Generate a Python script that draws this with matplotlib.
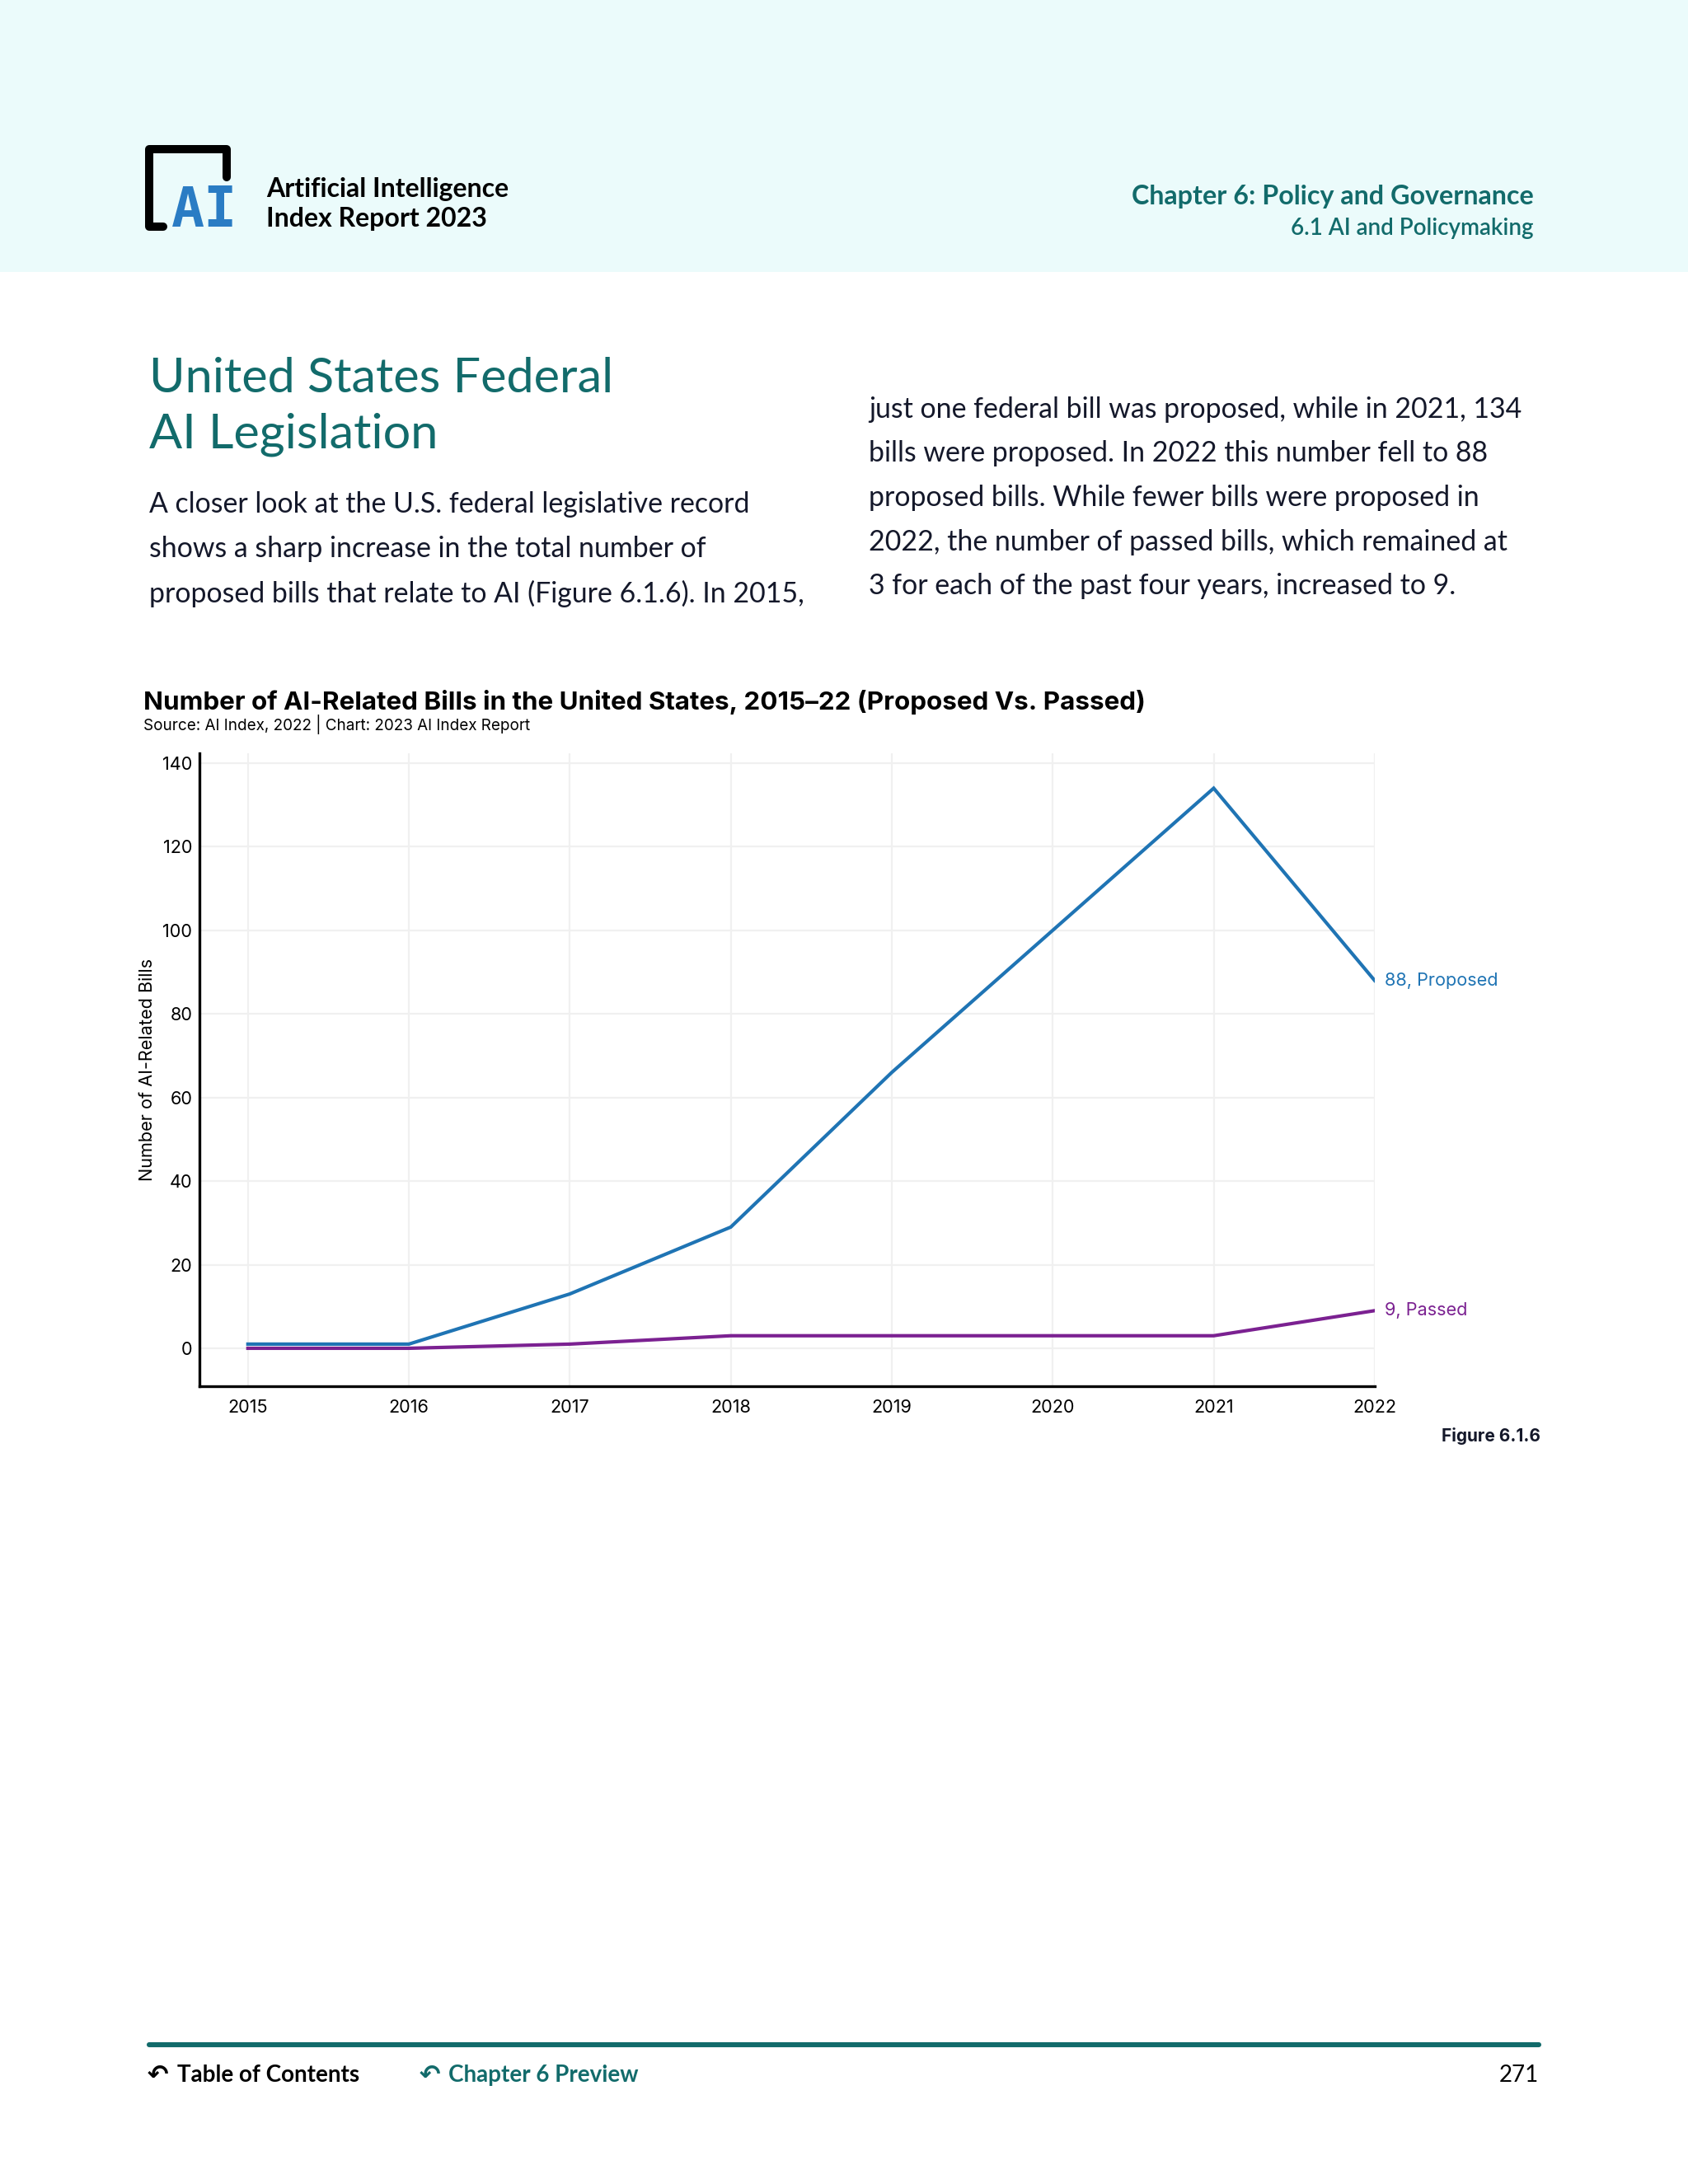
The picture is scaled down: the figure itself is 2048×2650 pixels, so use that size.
import matplotlib
matplotlib.use('Agg')
import matplotlib.pyplot as plt
from matplotlib.lines import Line2D
from matplotlib.patches import Rectangle

# Data
years = [2015, 2016, 2017, 2018, 2019, 2020, 2021, 2022]
proposed = [1, 1, 13, 29, 66, 100, 134, 88]
passed = [0, 0, 1, 3, 3, 3, 3, 9]
y_ticks = [0, 20, 40, 60, 80, 100, 120, 140]

BLUE = '#1f74b4'
PURPLE = '#7b2191'
TEAL = '#126b6b'
DARK = '#14182a'
BODY_FONT = ['Lato', 'DejaVu Sans']
CHART_FONT = ['Inter', 'DejaVu Sans']

# page layout is measured on a 1212 x 1568 grid
W, H = 1212.0, 1568.0


def P(x, y):
    return x / W, 1 - y / H


fig = plt.figure(figsize=(10.24, 13.25), dpi=200)
fig.patch.set_facecolor('white')

# header band
fig.add_artist(Rectangle((0, 1 - 195 / H), 1, 195 / H, transform=fig.transFigure,
                         facecolor='#ebfbfb', edgecolor='none', zorder=0))

# logo: black bracket + blue AI
bx = [117 / W, 107 / W, 107 / W, 163 / W, 163 / W]
by = [1 - 163 / H, 1 - 163 / H, 1 - 107 / H, 1 - 107 / H, 1 - 127 / H]
fig.add_artist(Line2D(bx, by, transform=fig.transFigure, color='black', lw=3.6,
                      solid_capstyle='round', solid_joinstyle='round'))
fig.text(*P(123, 163), 'AI', fontsize=24, fontweight='bold', color='#2a7cc4',
         family='DejaVu Sans Mono', va='baseline', ha='left')

fig.text(*P(191, 136), 'Artificial Intelligence', fontsize=11.5, fontweight='bold',
         color='black', family=BODY_FONT, va='center', ha='left')
fig.text(*P(191, 157), 'Index Report 2023', fontsize=11.5, fontweight='bold',
         color='black', family=BODY_FONT, va='center', ha='left')

fig.text(*P(1101, 141), 'Chapter 6: Policy and Governance', fontsize=11.6,
         fontweight='bold', color=TEAL, family=BODY_FONT, va='center', ha='right')
fig.text(*P(1101, 164), '6.1 AI and Policymaking', fontsize=10,
         fontweight='semibold', color=TEAL, family=BODY_FONT, va='center', ha='right')

# section title
fig.text(*P(107, 272), 'United States Federal', fontsize=21.4, color=TEAL,
         family=BODY_FONT, va='center', ha='left')
fig.text(*P(107, 312), 'AI Legislation', fontsize=21.4, color=TEAL,
         family=BODY_FONT, va='center', ha='left')

left_lines = [
    'A closer look at the U.S. federal legislative record',
    'shows a sharp increase in the total number of',
    'proposed bills that relate to AI (Figure 6.1.6). In 2015,',
]
right_lines = [
    'just one federal bill was proposed, while in 2021, 134',
    'bills were proposed. In 2022 this number fell to 88',
    'proposed bills. While fewer bills were proposed in',
    '2022, the number of passed bills, which remained at',
    '3 for each of the past four years, increased to 9.',
]
for i, line in enumerate(left_lines):
    fig.text(*P(107, 362 + 32 * i), line, fontsize=12.2, color=DARK,
             family=BODY_FONT, va='center', ha='left')
for i, line in enumerate(right_lines):
    fig.text(*P(624, 294 + 31.7 * i), line, fontsize=12.2, color=DARK,
             family=BODY_FONT, va='center', ha='left')

# chart title
fig.text(*P(103, 504), 'Number of AI-Related Bills in the United States, 2015–22 (Proposed Vs. Passed)',
         fontsize=11.3, fontweight='bold', color='black', family=CHART_FONT,
         va='center', ha='left')
fig.text(*P(103, 520), 'Source: AI Index, 2022 | Chart: 2023 AI Index Report',
         fontsize=6.8, color='black', family=CHART_FONT, va='center', ha='left')

# chart
ax = fig.add_axes([143 / W, 1 - 995 / H, (987 - 143) / W, (995 - 541) / H])
ax.plot(years, proposed, color=BLUE, lw=1.5, solid_joinstyle='miter')
ax.plot(years, passed, color=PURPLE, lw=1.5, solid_joinstyle='miter')

ax.set_xlim(2015 - 35 / 115.57, 2022)
ax.set_ylim(-9, 142.3)
ax.set_xticks(years)
ax.set_xticklabels([str(y) for y in years])
ax.set_yticks(y_ticks)
ax.grid(True, color='#f0f0f0', lw=0.8)
ax.set_axisbelow(True)
for side in ['top', 'right']:
    ax.spines[side].set_visible(False)
for side in ['left', 'bottom']:
    ax.spines[side].set_color('black')
    ax.spines[side].set_linewidth(1.2)
ax.tick_params(axis='y', length=0, labelsize=7.8, pad=3)
ax.tick_params(axis='x', length=0, labelsize=7.8, pad=6)
for lab in ax.get_xticklabels() + ax.get_yticklabels():
    lab.set_family(CHART_FONT)
ax.set_ylabel('Number of AI-Related Bills', fontsize=7.8, family=CHART_FONT, labelpad=3)

ax.annotate(f'{proposed[-1]}, Proposed', xy=(years[-1], proposed[-1]),
            xytext=(4.5, 0), textcoords='offset points', color=BLUE,
            fontsize=7.8, family=CHART_FONT, va='center', ha='left',
            annotation_clip=False)
ax.annotate(f'{passed[-1]}, Passed', xy=(years[-1], passed[-1]),
            xytext=(4.5, 0), textcoords='offset points', color=PURPLE,
            fontsize=7.8, family=CHART_FONT, va='center', ha='left',
            annotation_clip=False)

fig.text(*P(1106, 1031), 'Figure 6.1.6', fontsize=7.5, fontweight='bold',
         color=DARK, family=CHART_FONT, va='center', ha='right')

# footer
fig.add_artist(Line2D([107 / W, 1105 / W], [1 - 1468 / H, 1 - 1468 / H],
                      transform=fig.transFigure, color=TEAL, lw=2.2,
                      solid_capstyle='round'))
fig.text(*P(106, 1490), '↶', fontsize=11, color='black', family=['DejaVu Sans'],
         fontweight='bold', va='center', ha='left')
fig.text(*P(127, 1490), 'Table of Contents', fontsize=10, fontweight='bold',
         color='black', family=BODY_FONT, va='center', ha='left')
fig.text(*P(301, 1490), '↶', fontsize=11, color=TEAL, family=['DejaVu Sans'],
         fontweight='bold', va='center', ha='left')
fig.text(*P(322, 1490), 'Chapter 6 Preview', fontsize=10, fontweight='bold',
         color=TEAL, family=BODY_FONT, va='center', ha='left')
fig.text(*P(1105, 1490), '271', fontsize=10, color='black',
         family=BODY_FONT, va='center', ha='right')

fig.savefig('out.png', dpi=200, facecolor='white')
